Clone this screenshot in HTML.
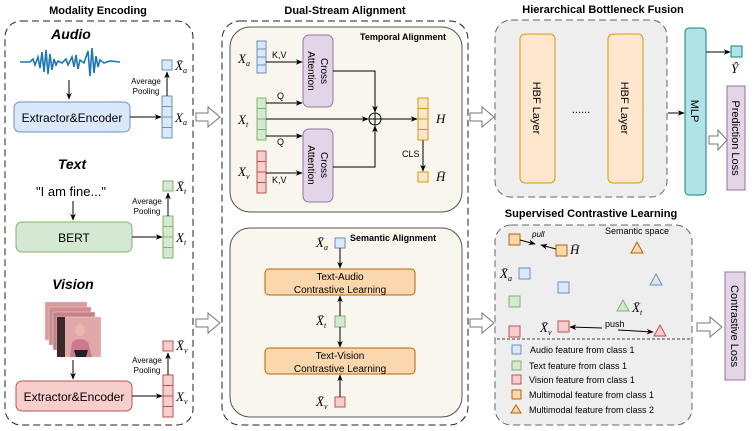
<!DOCTYPE html>
<html><head><meta charset="utf-8"><style>
html,body{margin:0;padding:0;background:#fff;}
svg{display:block;font-family:"Liberation Sans",sans-serif;}
.m{font-family:"Liberation Serif",serif;font-style:italic;font-size:13px;}
.b{font-weight:bold;}
</style></head><body>
<svg width="753" height="431" viewBox="0 0 753 431" xmlns="http://www.w3.org/2000/svg">
<defs>
<marker id="a" viewBox="0 0 10 10" refX="9" refY="5" markerWidth="7" markerHeight="7" orient="auto"><path d="M0,1 L10,5 L0,9 L3,5 z" fill="#000"/></marker>
</defs>
<!-- Modality Encoding -->
<text x="98" y="14" font-size="11" class="b" text-anchor="middle">Modality Encoding</text>
<rect x="5" y="21" width="188" height="404" rx="16" fill="none" stroke="#222" stroke-dasharray="7,4"/>
<text x="71" y="39" font-size="14" class="b" font-style="italic" text-anchor="middle">Audio</text>
<path d="M20,62 L30,62 L33,59 L35,65 L38,57 L40,68 L42,52 L44,72 L46,50 L48,74 L50,54 L52,70 L54,59 L56,65 L58,61 L62,63 L66,59 L68,65 L72,57 L74,67 L76,55 L78,69 L80,60 L84,63 L88,51 L90,76 L92,48 L94,73 L96,56 L98,67 L100,60 L104,63 L110,61 L120,62" fill="none" stroke="#1f77b4" stroke-width="1.6"/>
<line x1="69" y1="80" x2="69" y2="99" stroke="#000" marker-end="url(#a)"/>
<rect x="14" y="102" width="116" height="30" rx="6" fill="#dae8fc" stroke="#6c8ebf"/>
<text x="72" y="122" font-size="12" text-anchor="middle">Extractor&amp;Encoder</text>
<line x1="130" y1="117" x2="161" y2="117" stroke="#000" marker-end="url(#a)"/>
<g fill="#dae8fc" stroke="#6c8ebf"><rect x="162" y="96" width="10" height="10.5"/><rect x="162" y="106.5" width="10" height="10.5"/><rect x="162" y="117" width="10" height="10.5"/><rect x="162" y="127.5" width="10" height="10.5"/><rect x="162" y="60" width="10" height="10"/></g>
<line x1="167" y1="96" x2="167" y2="72" stroke="#000" marker-end="url(#a)"/>
<text x="146" y="84" font-size="8" text-anchor="middle">Average</text><text x="146" y="94" font-size="8" text-anchor="middle">Pooling</text>
<text x="175" y="70" class="m">X̄<tspan font-size="8" dy="3">a</tspan></text>
<text x="175" y="122" class="m">X<tspan font-size="8" dy="3">a</tspan></text>

<text x="72" y="169" font-size="14" class="b" font-style="italic" text-anchor="middle">Text</text>
<text x="71" y="196" font-size="13" text-anchor="middle">"I am fine..."</text>
<line x1="73" y1="201" x2="73" y2="220" stroke="#000" marker-end="url(#a)"/>
<rect x="16" y="222" width="116" height="30" rx="6" fill="#d5e8d4" stroke="#82b366"/>
<text x="74" y="242" font-size="12" text-anchor="middle">BERT</text>
<line x1="132" y1="237" x2="162" y2="237" stroke="#000" marker-end="url(#a)"/>
<g fill="#d5e8d4" stroke="#82b366"><rect x="163" y="216" width="10" height="10.5"/><rect x="163" y="226.5" width="10" height="10.5"/><rect x="163" y="237" width="10" height="10.5"/><rect x="163" y="247.5" width="10" height="10.5"/><rect x="163" y="181" width="10" height="10"/></g>
<line x1="168" y1="216" x2="168" y2="193" stroke="#000" marker-end="url(#a)"/>
<text x="147" y="204" font-size="8" text-anchor="middle">Average</text><text x="147" y="214" font-size="8" text-anchor="middle">Pooling</text>
<text x="176" y="191" class="m">X̄<tspan font-size="8" dy="3">t</tspan></text>
<text x="176" y="242" class="m">X<tspan font-size="8" dy="3">t</tspan></text>

<text x="73" y="289" font-size="14" class="b" font-style="italic" text-anchor="middle">Vision</text>
<g stroke="#ddd" stroke-width="0.5">
<rect x="45" y="302" width="42" height="38" fill="#d89a9a"/>
<rect x="49" y="307" width="42" height="38" fill="#d08c90"/>
<rect x="53" y="312" width="42" height="38" fill="#c88088"/>
<rect x="57" y="317" width="44" height="40" fill="#e0a8a8"/>
</g>
<rect x="57" y="317" width="8" height="40" fill="#3a2a2a"/>
<ellipse cx="80" cy="330" rx="5" ry="6" fill="#e8b8a8"/>
<path d="M70,357 L72,342 Q80,336 88,342 L92,357 z" fill="#d07890"/>
<path d="M74,350 L88,350 L86,357 L76,357z" fill="#222"/>
<line x1="73" y1="360" x2="73" y2="379" stroke="#000" marker-end="url(#a)"/>
<rect x="16" y="381" width="116" height="30" rx="6" fill="#f8cecc" stroke="#b85450"/>
<text x="74" y="401" font-size="12" text-anchor="middle">Extractor&amp;Encoder</text>
<line x1="132" y1="396" x2="162" y2="396" stroke="#000" marker-end="url(#a)"/>
<g fill="#f8cecc" stroke="#b85450"><rect x="163" y="375" width="10" height="10.5"/><rect x="163" y="385.5" width="10" height="10.5"/><rect x="163" y="396" width="10" height="10.5"/><rect x="163" y="406.5" width="10" height="10.5"/><rect x="163" y="341" width="10" height="10"/></g>
<line x1="168" y1="375" x2="168" y2="353" stroke="#000" marker-end="url(#a)"/>
<text x="147" y="363" font-size="8" text-anchor="middle">Average</text><text x="147" y="373" font-size="8" text-anchor="middle">Pooling</text>
<text x="176" y="350" class="m">X̄<tspan font-size="8" dy="3">v</tspan></text>
<text x="176" y="401" class="m">X<tspan font-size="8" dy="3">v</tspan></text>

<!-- hollow arrows -->
<g fill="#fff" stroke="#777">
<path d="M196,113 L208,113 L208,107 L220,117 L208,127 L208,121 L196,121z"/>
<path d="M196,319 L208,319 L208,313 L220,323 L208,333 L208,327 L196,327z"/>
<path d="M470,113 L482,113 L482,107 L494,117 L482,127 L482,121 L470,121z"/>
<path d="M470,319 L482,319 L482,313 L494,323 L482,333 L482,327 L470,327z"/>
<path d="M709,136 L718,136 L718,130 L727,140 L718,150 L718,144 L709,144z"/>
<path d="M697,323 L710,323 L710,317 L722,327 L710,337 L710,331 L697,331z"/>
</g>

<!-- Dual-Stream -->
<text x="345" y="14" font-size="11" class="b" text-anchor="middle">Dual-Stream Alignment</text>
<rect x="222" y="21" width="246" height="404" rx="18" fill="none" stroke="#222" stroke-dasharray="7,4"/>
<rect x="230" y="27" width="232" height="185" rx="20" fill="#f9f7ed" stroke="#555"/>
<text x="446" y="40" font-size="9" class="b" text-anchor="end">Temporal Alignment</text>
<g fill="#dae8fc" stroke="#6c8ebf"><rect x="257" y="41" width="9" height="8"/><rect x="257" y="49" width="9" height="8"/><rect x="257" y="57" width="9" height="8"/><rect x="257" y="65" width="9" height="8"/></g>
<g fill="#d5e8d4" stroke="#82b366"><rect x="257" y="98" width="9" height="10.5"/><rect x="257" y="108.5" width="9" height="10.5"/><rect x="257" y="119" width="9" height="10.5"/><rect x="257" y="129.5" width="9" height="10.5"/></g>
<g fill="#f8cecc" stroke="#b85450"><rect x="257" y="151" width="9" height="10.5"/><rect x="257" y="161.5" width="9" height="10.5"/><rect x="257" y="172" width="9" height="10.5"/><rect x="257" y="182.5" width="9" height="10.5"/></g>
<text x="238" y="63" class="m">X<tspan font-size="8" dy="3">a</tspan></text>
<text x="238" y="124" class="m">X<tspan font-size="8" dy="3">t</tspan></text>
<text x="238" y="176" class="m">X<tspan font-size="8" dy="3">v</tspan></text>
<rect x="303" y="35" width="30" height="72" rx="6" fill="#e1d5e7" stroke="#9673a6"/>
<rect x="303" y="129" width="30" height="73" rx="6" fill="#e1d5e7" stroke="#9673a6"/>
<text transform="translate(321,71) rotate(90)" font-size="10" text-anchor="middle">Cross</text>
<text transform="translate(308,71) rotate(90)" font-size="10" text-anchor="middle">Attention</text>
<text transform="translate(321,165) rotate(90)" font-size="10" text-anchor="middle">Cross</text>
<text transform="translate(308,165) rotate(90)" font-size="10" text-anchor="middle">Attention</text>
<g stroke="#000" fill="none">
<line x1="266" y1="62" x2="302" y2="62" marker-end="url(#a)"/>
<line x1="266" y1="103" x2="302" y2="103" marker-end="url(#a)"/>
<line x1="266" y1="136" x2="302" y2="136" marker-end="url(#a)"/>
<line x1="266" y1="173" x2="302" y2="173" marker-end="url(#a)"/>
<line x1="266" y1="119" x2="368" y2="119" marker-end="url(#a)"/>
<path d="M333,71 L375,71 L375,112" marker-end="url(#a)"/>
<path d="M333,167 L375,167 L375,126" marker-end="url(#a)"/>
<circle cx="375" cy="119" r="6"/>
<line x1="369" y1="119" x2="381" y2="119"/><line x1="375" y1="113" x2="375" y2="125"/>
<line x1="381" y1="119" x2="417" y2="119" marker-end="url(#a)"/>
<line x1="423" y1="140" x2="423" y2="171" marker-end="url(#a)"/>
</g>
<text x="272" y="58" font-size="9">K,V</text>
<text x="277" y="99" font-size="9">Q</text>
<text x="277" y="145" font-size="9">Q</text>
<text x="272" y="183" font-size="9">K,V</text>
<g fill="#ffe6cc" stroke="#d79b00"><rect x="418" y="98" width="10" height="10.5"/><rect x="418" y="108.5" width="10" height="10.5"/><rect x="418" y="119" width="10" height="10.5"/><rect x="418" y="129.5" width="10" height="10.5"/><rect x="418" y="172" width="10" height="10"/></g>
<text x="436" y="123" class="m">H</text>
<text x="436" y="181" class="m">H̄</text>
<text x="402" y="157" font-size="9">CLS</text>

<rect x="230" y="228" width="232" height="189" rx="20" fill="#f9f7ed" stroke="#555"/>
<text x="350" y="241" font-size="9" class="b">Semantic Alignment</text>
<rect x="335" y="238" width="10" height="10" fill="#dae8fc" stroke="#6c8ebf"/>
<text x="316" y="247" class="m">X̄<tspan font-size="8" dy="3">a</tspan></text>
<rect x="265" y="269" width="150" height="26" rx="4" fill="#fad7ac" stroke="#b46504"/>
<text x="340" y="280" font-size="10" text-anchor="middle">Text-Audio</text>
<text x="340" y="293" font-size="10" text-anchor="middle">Contrastive Learning</text>
<rect x="335" y="316" width="10" height="11" fill="#d5e8d4" stroke="#82b366"/>
<text x="316" y="325" class="m">X̄<tspan font-size="8" dy="3">t</tspan></text>
<rect x="265" y="348" width="150" height="26" rx="4" fill="#fad7ac" stroke="#b46504"/>
<text x="340" y="359" font-size="10" text-anchor="middle">Text-Vision</text>
<text x="340" y="372" font-size="10" text-anchor="middle">Contrastive Learning</text>
<rect x="335" y="397" width="10" height="10" fill="#f8cecc" stroke="#b85450"/>
<text x="316" y="406" class="m">X̄<tspan font-size="8" dy="3">v</tspan></text>
<g stroke="#000">
<line x1="340" y1="248" x2="340" y2="268" marker-end="url(#a)"/>
<line x1="340" y1="316" x2="340" y2="296" marker-end="url(#a)"/>
<line x1="340" y1="327" x2="340" y2="347" marker-end="url(#a)"/>
<line x1="340" y1="397" x2="340" y2="375" marker-end="url(#a)"/>
</g>

<!-- HBF -->
<text x="603" y="13" font-size="11" class="b" text-anchor="middle">Hierarchical Bottleneck Fusion</text>
<rect x="495" y="20" width="172" height="177" rx="16" fill="#eeeeee" stroke="#666" stroke-dasharray="7,4"/>
<rect x="520" y="34" width="35" height="149" rx="5" fill="#ffe6cc" stroke="#d79b00"/>
<rect x="608" y="34" width="35" height="149" rx="5" fill="#ffe6cc" stroke="#d79b00"/>
<text transform="translate(533,108) rotate(90)" font-size="11" text-anchor="middle">HBF Layer</text>
<text transform="translate(621,108) rotate(90)" font-size="11" text-anchor="middle">HBF Layer</text>
<text x="581" y="113" font-size="11" text-anchor="middle">......</text>
<line x1="668" y1="113" x2="684" y2="113" stroke="#000" marker-end="url(#a)"/>
<rect x="685" y="28" width="21" height="167" rx="4" fill="#b0e3e6" stroke="#0e8088"/>
<text transform="translate(691,111) rotate(90)" font-size="11" text-anchor="middle">MLP</text>
<line x1="706" y1="52" x2="730" y2="52" stroke="#000" marker-end="url(#a)"/>
<rect x="731" y="46" width="11" height="11" fill="#b0e3e6" stroke="#0e8088"/>
<text x="731" y="73" class="m">Ŷ</text>
<rect x="727" y="86" width="18" height="104" fill="#e1d5e7" stroke="#9673a6"/>
<text transform="translate(732,138) rotate(90)" font-size="11" text-anchor="middle">Prediction Loss</text>

<!-- SCL -->
<text x="591" y="217" font-size="11" class="b" text-anchor="middle">Supervised Contrastive Learning</text>
<rect x="495" y="225" width="197" height="200" rx="16" fill="#eeeeee" stroke="#666" stroke-dasharray="7,4"/>
<text x="637" y="234" font-size="9" text-anchor="middle">Semantic space</text>
<line x1="497" y1="339" x2="690" y2="339" stroke="#444" stroke-dasharray="3,2"/>
<g stroke-width="1">
<rect x="509" y="234" width="11" height="11" fill="#fad7ac" stroke="#b46504"/>
<rect x="556" y="245" width="11" height="11" fill="#fad7ac" stroke="#b46504"/>
<path d="M637,242 L643,253 L631,253z" fill="#fad7ac" stroke="#b46504"/>
<rect x="519" y="268" width="11" height="11" fill="#dae8fc" stroke="#6c8ebf"/>
<rect x="558" y="282" width="11" height="11" fill="#dae8fc" stroke="#6c8ebf"/>
<path d="M656,274 L662,285 L650,285z" fill="#dae8fc" stroke="#6c8ebf"/>
<rect x="509" y="296" width="11" height="11" fill="#d5e8d4" stroke="#82b366"/>
<path d="M623,300 L629,311 L617,311z" fill="#d5e8d4" stroke="#82b366"/>
<rect x="509" y="326" width="11" height="11" fill="#f8cecc" stroke="#b85450"/>
<rect x="558" y="321" width="11" height="11" fill="#f8cecc" stroke="#b85450"/>
<path d="M660,325 L666,336 L654,336z" fill="#f8cecc" stroke="#b85450"/>
</g>
<text x="570" y="254" class="m">H̄</text>
<text x="500" y="278" class="m">X̄<tspan font-size="8" dy="3">a</tspan></text>
<text x="632" y="312" class="m">X̄<tspan font-size="8" dy="3">t</tspan></text>
<text x="540" y="332" class="m">X̄<tspan font-size="8" dy="3">v</tspan></text>
<text x="532" y="237" font-size="8" font-style="italic">pull</text>
<text x="605" y="327" font-size="9">push</text>
<g stroke="#000">
<line x1="520" y1="240" x2="535" y2="244" marker-end="url(#a)"/>
<line x1="556" y1="249" x2="541" y2="245" marker-end="url(#a)"/>
<line x1="602" y1="328" x2="570" y2="327" marker-end="url(#a)"/>
<line x1="618" y1="330" x2="653" y2="332" marker-end="url(#a)"/>
</g>
<g font-size="9">
<rect x="512" y="345" width="9" height="9" fill="#dae8fc" stroke="#6c8ebf"/><text x="530" y="353">Audio feature from class 1</text>
<rect x="512" y="361" width="9" height="9" fill="#d5e8d4" stroke="#82b366"/><text x="529" y="369">Text feature from class 1</text>
<rect x="512" y="375" width="9" height="9" fill="#f8cecc" stroke="#b85450"/><text x="529" y="383">Vision feature from class 1</text>
<rect x="512" y="390" width="9" height="9" fill="#fad7ac" stroke="#b46504"/><text x="529" y="398">Multimodal feature from class 1</text>
<path d="M516,405 L521,413 L511,413z" fill="#fad7ac" stroke="#b46504"/><text x="529" y="413">Multimodal feature from class 2</text>
</g>
<rect x="725" y="272" width="20" height="108" fill="#e1d5e7" stroke="#9673a6"/>
<text transform="translate(731,326) rotate(90)" font-size="11" text-anchor="middle">Contrastive Loss</text>
</svg>
</body></html>
